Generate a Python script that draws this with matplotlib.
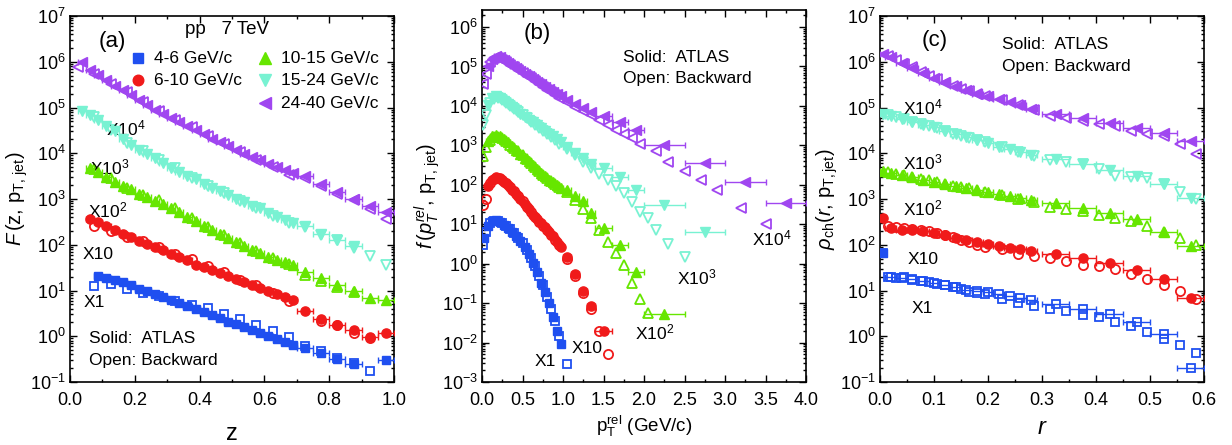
"""Jet fragmentation function, relative-pT spectrum and radial profile: ATLAS vs Backward, pp 7 TeV."""

import numpy as np
import matplotlib
matplotlib.use("Agg")
import matplotlib.pyplot as plt
from matplotlib.ticker import LogLocator, MultipleLocator, NullFormatter

plt.rcParams["font.family"] = ["Liberation Sans", "DejaVu Sans"]
plt.rcParams["mathtext.fontset"] = "custom"
plt.rcParams["mathtext.rm"] = "Liberation Sans"
plt.rcParams["mathtext.it"] = "Liberation Sans:italic"
plt.rcParams["mathtext.bf"] = "Liberation Sans:bold"

nan = np.nan

labels = ["4-6 GeV/c", "6-10 GeV/c", "10-15 GeV/c", "15-24 GeV/c", "24-40 GeV/c"]
scale_labels = ["X1", "X10", "X10$^2$", "X10$^3$", "X10$^4$"]
colors = ["#1f4ff0", "#f01a1a", "#66e600", "#78f2d2", "#a046f0"]
markers = ["s", "o", "^", "v", "<"]

# values below are as drawn, i.e. already multiplied by X1 ... X10^4

# ---- (a) F(z, pT,jet)
z_solid = [0.0125, 0.0375, 0.0625, 0.0875, 0.1125, 0.1375, 0.1625, 0.1875, 0.2125,
           0.2375, 0.2625, 0.2875, 0.3125, 0.3375, 0.3625, 0.3875, 0.4125, 0.4375,
           0.4625, 0.4875, 0.5125, 0.5375, 0.5625, 0.5875, 0.6125, 0.6375, 0.6625,
           0.6875, 0.725, 0.775, 0.825, 0.875, 0.925, 0.975]
z_halfwidth = [0.0125] * 28 + [0.025] * 6
F_solid = [
    [nan, nan, nan, 21, 19, 17, 15.5, 13.5, 11, 9.8, 8.4, 7.2, 6.1, 5.3, 4.7, 4.0, 3.4,
     2.9, 2.5, 2.1, 1.85, 1.6, 1.4, 1.2, 1.02, 0.88, 0.75, 0.64, 0.55, 0.43, 0.32, 0.25,
     nan, 0.31],
    [nan, nan, 370, 320, 260, 215, 175, 145, 118, 102, 88, 75, 62, 54, 46, 37, 32, 28,
     24, 20.5, 17.5, 15, 13, 11.5, 9.8, 8.5, 7.3, 6.2, 3.5, 2.4, 1.8, 1.35, 0.97, 1.18],
    [nan, nan, 4800, 3900, 3000, 2400, 1950, 1650, 1300, 1100, 920, 780, 620, 520, 400,
     330, 260, 210, 170, 140, 112, 95, 78, 65, 55, 47, 41, 36, 26, 19, 13.5, 9.7, 6.9, 6.3],
    [nan, 85000, 68000, 52000, 40000, 30000, 20000, 15500, 11500, 9500, 7800, 6200, 4800,
     3900, 3200, 2700, 2100, 1750, 1500, 1200, 1000, 850, 720, 620, 500, 410, 350, 300,
     260, 175, 130, 95, nan, nan],
    [nan, 1.0e6, 6.5e5, 5.2e5, 4.0e5, 3.0e5, 2.4e5, 1.9e5, 1.45e5, 1.15e5, 9e4, 7.2e4,
     5.8e4, 4.8e4, 4.0e4, 3.3e4, 2.6e4, 2.1e4, 1.75e4, 1.45e4, 1.2e4, 9800, 8300, 7000,
     5900, 5000, 4300, 3700, 3200, 2100, 1420, 1000, 720, 515],
]
z_open = [0.025, 0.075, 0.125, 0.175, 0.225, 0.275, 0.325, 0.375, 0.425, 0.475,
          0.525, 0.575, 0.625, 0.675, 0.725, 0.775, 0.825, 0.875, 0.925, 0.975]
F_open = [
    [nan, 12.6, 13.8, 11, 8.8, 7.4, 5.8, 4.9, 4.1, 3.0, 2.4, 1.74, 1.3, 0.97, 0.6, 0.48,
     0.34, 0.26, 0.17, nan],
    [nan, 262, 195, 150, 118, 90, 63, 48, 35, 25, 17, 13, 8.6, 5.9, nan, 2.2, 1.8, 1.2,
     0.93, nan],
    [nan, 4600, 2900, 1750, 1250, 950, 640, 380, 240, 165, 110, 72, 52, 38, 22, 16, 12,
     9.2, nan, nan],
    [nan, 62000, 33000, 17000, 11000, 7200, 4700, 2950, 1900, 1350, 920, 640, 430, 300,
     250, 165, 125, 85, 58, 37],
    [7.5e5, 5.5e5, 3.3e5, 2.2e5, 1.35e5, 8.2e4, 5.3e4, 3.8e4, 2.4e4, 1.6e4, 1.05e4, 7200,
     5000, 3400, 2900, 1900, 1300, 950, 600, 360],
]

# ---- (b) f(pT_rel, pT,jet)
p_solid = [0.025, 0.075, 0.125, 0.175, 0.225, 0.275, 0.325, 0.375, 0.425, 0.475, 0.525,
           0.575, 0.625, 0.675, 0.725, 0.775, 0.825, 0.875, 0.925, 0.975, 1.05, 1.15,
           1.25, 1.35, 1.5, 1.7, 1.9, 2.25, 2.75, 3.25, 3.75]
p_halfwidth = [0.025] * 20 + [0.05] * 4 + [0.1] * 3 + [0.25] * 4
f_solid = [
    [4.5, 9, 12, 13, 11.5, 9.8, 8.0, 6.5, 5.0, 3.8, 2.6, 1.75, 1.05, 0.62, 0.33, 0.19,
     0.1, 0.045, 0.02, 0.009] + [nan] * 11,
    [nan, 95, 135, 160, 145, 120, 100, 75, 58, 43, 33, 25, 17, 13.5, 11, 8.5, 6.5, 4.9,
     3.6, 2.6, 1.45, 0.55, 0.2, 0.085, 0.02, nan, nan, nan, nan, nan, nan],
    [nan, 1300, 1700, 1850, 1700, 1450, 1200, 950, 780, 620, 490, 390, 310, 250, 200, 165,
     135, 115, 100, 85, 72, 53, 38, 19, 7.9, 3.0, 0.6, 0.054, nan, nan, nan],
    [nan, 10500, 15500, 17500, 16000, 13500, 11500, 9300, 7900, 6300, 5300, 4500, 3800,
     3200, 2700, 2300, 1950, 1700, 1450, 1200, 900, 650, 470, 330, 260, 158, 74, 31, 6.3,
     nan, nan],
    [nan, 1.05e5, 1.55e5, 1.8e5, 1.7e5, 1.45e5, 1.25e5, 1.05e5, 9e4, 7.5e4, 6.4e4, 5.6e4,
     4.8e4, 4.1e4, 3.6e4, 3.1e4, 2.7e4, 2.3e4, 2.0e4, 1.75e4, 1.45e4, 1.15e4, 9000, 7000,
     5500, 3800, 2500, 1050, 355, 115, 35],
]
p_open = [0.015, 0.05, 0.1, 0.15, 0.2, 0.25, 0.3, 0.35, 0.4, 0.45, 0.5, 0.55, 0.6, 0.65,
          0.7, 0.75, 0.8, 0.85, 0.9, 0.95, 1.05, 1.15, 1.25, 1.35, 1.45, 1.55, 1.65, 1.75,
          1.85, 1.95, 2.05, 2.15, 2.3, 2.5, 2.7, 2.9, 3.2, 3.5]
f_open = [
    [3.0, 6.5, 10.5, 12, 12, 10.5, 9, 7.5, 6, 4.5, 3.3, 2.2, 1.4, 0.85, 0.5, 0.28, 0.14,
     0.07, 0.035, 0.015, 0.0029] + [nan] * 17,
    [31, 44, 110, 140, 150, 130, 110, 88, 70, 52, 38, 28, 20, 15, 11.5, 9, 7, 5.3, 4, 2.9,
     1.3, 0.5, 0.18, 0.069, 0.02, 0.005] + [nan] * 12,
    [525, 930, 1400, 1600, 1650, 1500, 1300, 1050, 850, 700, 560, 440, 350, 280, 220, 180,
     150, 125, 105, 90, 65, 42, 24, 14, 7, 3.6, 1.9, 0.93, 0.32, 0.13, 0.055] + [nan] * 7,
    [3300, 6000, 12000, 15000, 15500, 14000, 12000, 10000, 8500, 7000, 5800, 4800, 4000,
     3300, 2700, 2300, 1900, 1600, 1350, 1100, 800, 560, 380, 260, 190, 135, 91, 62, 36,
     21, 14, 7.2, 3.2, 1.5] + [nan] * 4,
    [3.5e4, 6.5e4, 1.3e5, 1.6e5, 1.65e5, 1.5e5, 1.3e5, 1.1e5, 9.5e4, 8e4, 6.8e4, 5.8e4,
     5e4, 4.2e4, 3.6e4, 3.1e4, 2.6e4, 2.2e4, 1.9e4, 1.6e4, 1.25e4, 9500, 7500, 5800, 4500,
     3300, 2500, 1900, 1500, 1100, nan, 710, 370, 220, 135, 73, 26, 10],
]

# ---- (c) rho_ch(r, pT,jet)
r_solid = [0.005, 0.02, 0.04, 0.06, 0.08, 0.10, 0.12, 0.14, 0.16, 0.18, 0.20, 0.22, 0.24,
           0.26, 0.28, 0.325, 0.375, 0.425, 0.475, 0.525, 0.575]
r_halfwidth = [0.005] + [0.01] * 14 + [0.025] * 6
rho_solid = [
    [66, 20, 18.5, 17.8, 16, 14.5, 13, 12, 10.5, 10, 9.2, 8.4, 7.7, 7.0, 6.3, 5.0, 4.0,
     3.0, 2.1, 1.1, 0.2],
    [390, 230, 215, 205, 195, 180, 160, 140, 125, 112, 104, 96, 87, 80, 74, 62, 52, 40,
     28, 18, 6.9],
    [4150, 3750, 3300, 3000, 2650, 2400, 2150, 1900, 1750, 1600, 1450, 1280, 1150, 1050,
     960, 830, 620, 500, 360, 190, 93],
    [72000, 65000, 56000, 48000, 42000, 37000, 31000, 26000, 22500, 19500, 16500, 14000,
     12500, 10500, 9200, 7400, 5800, 4300, 3200, 2100, 1050],
    [1.48e6, 1.25e6, 9.6e5, 7.4e5, 5.6e5, 4.5e5, 3.6e5, 2.9e5, 2.4e5, 2.0e5, 1.75e5,
     1.52e5, 1.32e5, 1.12e5, 9.3e4, 7.1e4, 6.0e4, 4.5e4, 3.6e4, 2.8e4, 1.86e4],
]
r_open = [0.015, 0.03, 0.045, 0.06, 0.075, 0.09, 0.105, 0.12, 0.135, 0.15, 0.165, 0.18,
          0.195, 0.225, 0.255, 0.285, 0.315, 0.345, 0.375, 0.405, 0.435, 0.465, 0.495,
          0.525, 0.555, 0.585]
rho_open = [
    [20, 19, 19.5, 17, 16.5, 15, 14, 13, 12, 11, 9.5, 8.8, 8.2, 6.5, 5.3, 4.5, 4.0, 3.6,
     2.9, 2.6, 2.0, 1.66, 1.23, 0.89, 0.63, 0.43],
    [260, 240, 230, 225, 215, 200, 185, 165, 145, 130, 112, 98, 88, 79, 63, 56, 52, 45,
     37, 34, 29, 23, 18, 13.5, 9.7, 6.6],
    [3800, 3500, 3300, 3050, 2800, 2600, 2350, 2150, 1950, 1800, 1700, 1580, 1450, 1200,
     1020, 850, 680, 600, 540, 440, 390, 330, 257, 190, 141, 98],
    [68000, 62000, 55000, 49000, 44000, 39000, 35000, 31000, 27000, 24000, 21500, 19500,
     17500, 14000, 10500, 8900, 7000, 6300, 5700, 4500, 3200, 3000, 2950, 2100, 1400, 980],
    [1.35e6, 1.1e6, 9e5, 7.5e5, 6e5, 5e5, 4.2e5, 3.5e5, 3.0e5, 2.6e5, 2.3e5, 2.0e5, 1.8e5,
     1.45e5, 1.15e5, 8.8e4, 6.6e4, 5.8e4, 5.0e4, 4.4e4, 4.0e4, 3.1e4, 2.6e4, 2.4e4, 1.6e4,
     9.5e3],
]

MS = {"s": 6.0, "o": 6.6, "^": 7.0, "v": 7.0, "<": 7.0}


def draw_series(ax, xs, xerr, ys_solid, xo, ys_open, open_first=False):
    for i in range(5):
        m = markers[i]
        ax.plot(xo, ys_open[i], m, ls="none", mfc="none", mec=colors[i], mew=1.3,
                ms=MS[m], zorder=3)
        eb = ax.errorbar(xs, ys_solid[i], xerr=xerr, fmt=m, color=colors[i], ms=MS[m],
                         elinewidth=1.0, capsize=2.5, capthick=1.0, zorder=4)
        if open_first and i == 0:
            # in (c) the lowest ATLAS set is drawn hollow except its first point
            eb[0].set_markerfacecolor("none")
            eb[0].set_markeredgewidth(1.3)
            ax.plot(xs[:1], ys_solid[i][:1], m, color=colors[i], ms=MS[m], zorder=5)


def style_axes(ax, xmaj, xmin):
    ax.set_yscale("log")
    ax.yaxis.set_major_locator(LogLocator(base=10, numticks=20))
    ax.yaxis.set_minor_locator(LogLocator(base=10, subs=np.arange(2, 10), numticks=20))
    ax.yaxis.set_minor_formatter(NullFormatter())
    ax.xaxis.set_major_locator(MultipleLocator(xmaj))
    ax.xaxis.set_minor_locator(MultipleLocator(xmin))
    ax.tick_params(which="both", direction="in", top=True, right=True, width=1.0,
                   labelsize=13)
    ax.tick_params(which="major", length=5)
    ax.tick_params(which="minor", length=2.5)
    ax.tick_params(axis="x", which="major", pad=7)
    ax.tick_params(axis="y", which="major", pad=3)
    for s in ax.spines.values():
        s.set_linewidth(1.2)


fig = plt.figure(figsize=(12.32, 4.45), dpi=100)
ax_a = fig.add_axes([70 / 1232, 63 / 445, 324 / 1232, 366 / 445])
ax_b = fig.add_axes([482 / 1232, 63 / 445, 324 / 1232, 372 / 445])
ax_c = fig.add_axes([880 / 1232, 63 / 445, 324 / 1232, 366 / 445])

# (a)
draw_series(ax_a, z_solid, z_halfwidth, F_solid, z_open, F_open)
style_axes(ax_a, 0.2, 0.1)
ax_a.set_xlim(0, 1.0)
ax_a.set_ylim(1e-1, 1e7)
ax_a.set_xlabel("z", fontsize=17, labelpad=10)
ax_a.set_ylabel(r"$F\,(\mathrm{z,\,p_{T,\,jet}})$", fontsize=14.5, labelpad=0)
ax_a.text(0.13, 0.929, "(a)", transform=ax_a.transAxes, fontsize=16, ha="center", va="center")
ax_a.text(0.485, 0.962, "pp   7 TeV", transform=ax_a.transAxes, fontsize=13.5,
          ha="center", va="center")
leg_pos = [(0.21, 0.885), (0.21, 0.825), (0.602, 0.885), (0.602, 0.825), (0.602, 0.762)]
for i, (lx, ly) in enumerate(leg_pos):
    ax_a.plot([lx], [ly], markers[i], color=colors[i], ms=MS[markers[i]] + 1,
              transform=ax_a.transAxes, clip_on=False)
    ax_a.text(lx + 0.05, ly, labels[i], transform=ax_a.transAxes, fontsize=12.5,
              ha="left", va="center")
for lab, (tx, ty) in zip(scale_labels, [(0.043, 0.216), (0.04, 0.347), (0.056, 0.47),
                                        (0.062, 0.585), (0.111, 0.694)]):
    ax_a.text(tx, ty, lab, transform=ax_a.transAxes, fontsize=12.5, ha="left", va="center")
ax_a.text(0.059, 0.12, "Solid:  ATLAS", transform=ax_a.transAxes, fontsize=12.5, va="center")
ax_a.text(0.059, 0.06, "Open: Backward", transform=ax_a.transAxes, fontsize=12.5, va="center")

# (b)
draw_series(ax_b, p_solid, p_halfwidth, f_solid, p_open, f_open)
style_axes(ax_b, 0.5, 0.25)
ax_b.set_xlim(0, 4.0)
ax_b.set_ylim(1e-3, 2.7e6)
ax_b.set_xlabel(r"$\mathrm{p_T^{rel}}$ (GeV/c)", fontsize=13.5, labelpad=4)
ax_b.set_ylabel(r"$f\,(p_T^{rel},\,\mathrm{p_{T,\,jet}})$", fontsize=14.5, labelpad=0)
ax_b.text(0.17, 0.938, "(b)", transform=ax_b.transAxes, fontsize=16, ha="center", va="center")
ax_b.text(0.435, 0.873, "Solid:  ATLAS", transform=ax_b.transAxes, fontsize=12.5, va="center")
ax_b.text(0.435, 0.817, "Open: Backward", transform=ax_b.transAxes, fontsize=12.5, va="center")
for lab, (tx, ty) in zip(scale_labels, [(0.195, 0.056), (0.324, 0.091), (0.534, 0.134),
                                        (0.664, 0.282), (0.895, 0.387)]):
    ax_b.text(tx, ty, lab, transform=ax_b.transAxes, fontsize=12.5, ha="center", va="center")

# (c)
draw_series(ax_c, r_solid, r_halfwidth, rho_solid, r_open, rho_open, open_first=True)
style_axes(ax_c, 0.1, 0.05)
ax_c.set_xlim(0, 0.6)
ax_c.set_ylim(1e-1, 1e7)
ax_c.set_xlabel(r"$r$", fontsize=17, labelpad=6)
ax_c.set_ylabel(r"$\rho_{\mathrm{ch}}(r,\,\mathrm{p_{T,jet}})$", fontsize=14.5, labelpad=0)
ax_c.text(0.17, 0.934, "(c)", transform=ax_c.transAxes, fontsize=16, ha="center", va="center")
ax_c.text(0.377, 0.923, "Solid:  ATLAS", transform=ax_c.transAxes, fontsize=12.5, va="center")
ax_c.text(0.377, 0.861, "Open: Backward", transform=ax_c.transAxes, fontsize=12.5, va="center")
for lab, (tx, ty) in zip(scale_labels, [(0.13, 0.202), (0.133, 0.336), (0.133, 0.475),
                                        (0.133, 0.601), (0.133, 0.749)]):
    ax_c.text(tx, ty, lab, transform=ax_c.transAxes, fontsize=12.5, ha="center", va="center")

fig.savefig("out.png", dpi=100)
plt.close(fig)
